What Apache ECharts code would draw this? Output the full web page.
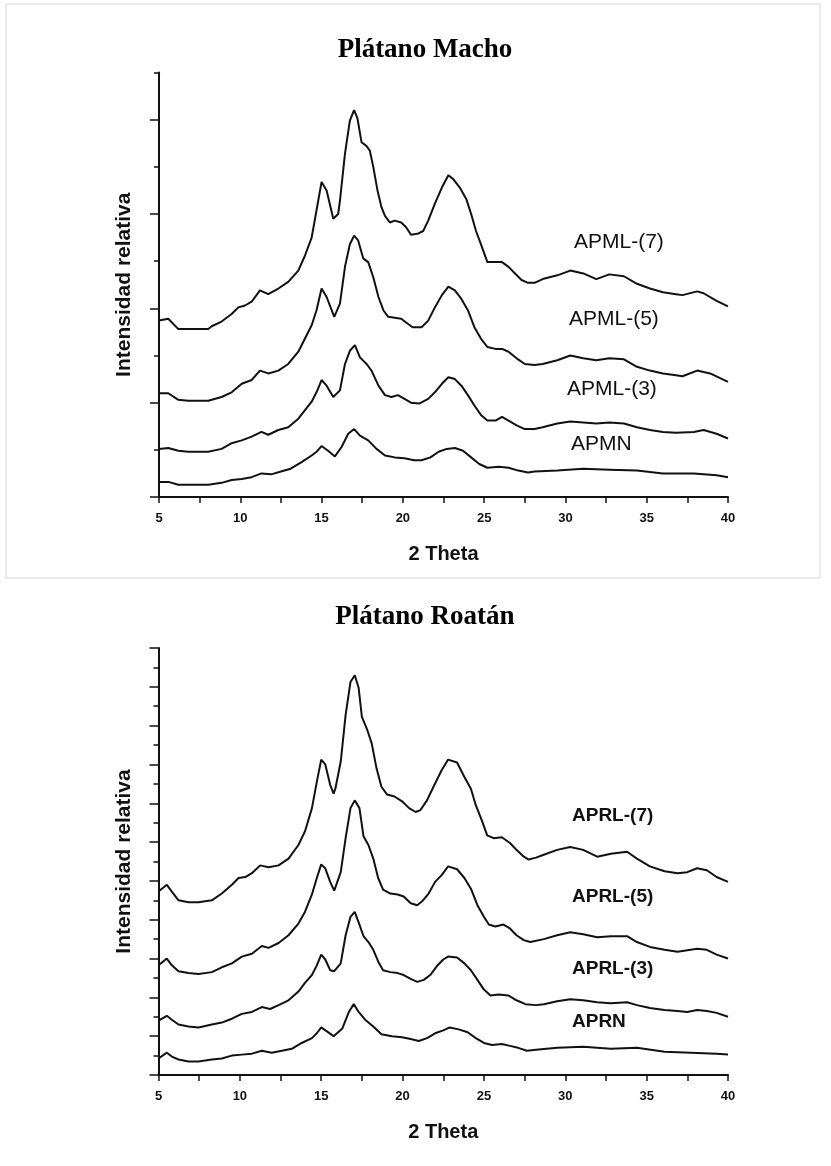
<!DOCTYPE html>
<html>
<head>
<meta charset="utf-8">
<script src="https://cdn.jsdelivr.net/npm/echarts@6/dist/echarts.min.js"></script>
<style>
  html, body { margin: 0; padding: 0; background: #fff; }
  #chart { width: 831px; height: 1166px; }
</style>
</head>
<body>
<div id="chart"></div>
<script>
// difractogramas, pares [2 theta, intensidad relativa]
// Platano Macho
var apml7 = [[5.0,187],[5.57,189],[6.19,178],[6.6,178],[8.03,178],[8.24,181],[8.85,186],[9.47,194],[9.88,201],[10.29,203],[10.7,207],[11.21,219],[11.72,215],[12.34,221],[12.95,228],[13.57,240],[13.98,256],[14.39,275],[14.69,304],[15.0,334],[15.31,325],[15.72,295],[16.02,300],[16.13,314],[16.44,364],[16.74,399],[17.0,410],[17.2,402],[17.46,376],[17.77,372],[17.97,367],[18.18,350],[18.44,325],[18.69,307],[18.9,298],[19.2,291],[19.5,293],[19.9,291],[20.2,286],[20.5,278],[20.9,279],[21.25,282],[21.56,293],[21.97,311],[22.4,328],[22.8,341],[23.1,337],[23.5,328],[23.9,316],[24.2,300],[24.5,282],[24.8,268],[25.2,249],[25.7,249],[26.1,249],[26.5,244],[26.9,237],[27.3,230],[27.7,227],[28.1,227],[28.6,231],[29.5,235],[30.3,240],[31.1,237],[31.9,231],[32.7,236],[33.6,234],[34.4,226],[35.2,221],[36.0,217],[36.8,215],[37.2,214],[38.1,218],[38.5,216],[39.3,208],[40.0,202]];
var apml5 = [[5.0,110],[5.57,110],[6.19,103],[6.8,102],[8.03,102],[8.85,106],[9.47,111],[10.09,120],[10.7,124],[11.21,134],[11.72,131],[12.34,134],[12.95,141],[13.57,154],[13.98,168],[14.39,182],[14.69,198],[15.0,221],[15.31,212],[15.78,191],[16.13,205],[16.44,244],[16.74,268],[17.0,277],[17.25,272],[17.56,253],[17.87,249],[18.18,233],[18.5,212],[18.8,198],[19.1,191],[19.5,190],[19.9,189],[20.2,185],[20.6,180],[21.15,180],[21.56,187],[21.97,201],[22.4,214],[22.8,223],[23.2,219],[23.6,210],[24.0,198],[24.4,180],[24.8,168],[25.2,159],[25.7,157],[26.1,157],[26.5,154],[27.0,147],[27.5,141],[28.1,140],[28.6,141],[29.5,145],[30.3,150],[31.1,147],[31.9,145],[32.7,147],[33.6,146],[34.4,138],[35.2,134],[36.0,131],[36.8,129],[37.2,128],[38.1,134],[38.9,131],[40.0,122]];
var apml3 = [[5.0,51],[5.57,52],[6.19,49],[6.8,48],[8.03,48],[8.85,51],[9.47,57],[10.09,60],[10.7,64],[11.3,69],[11.72,66],[12.34,71],[12.95,74],[13.57,83],[13.98,92],[14.39,101],[14.69,111],[15.0,124],[15.31,118],[15.72,106],[16.13,113],[16.44,141],[16.74,155],[17.05,161],[17.36,148],[17.77,141],[18.07,134],[18.5,118],[18.9,108],[19.3,106],[19.7,108],[20.1,104],[20.5,100],[21.0,99],[21.56,104],[21.97,111],[22.4,120],[22.8,127],[23.2,125],[23.6,118],[24.0,108],[24.4,97],[24.8,87],[25.2,81],[25.7,81],[26.1,85],[26.5,81],[27.0,76],[27.5,72],[28.1,72],[28.6,74],[29.5,78],[30.3,80],[31.1,79],[31.9,78],[32.7,79],[33.6,78],[34.4,74],[35.2,71],[36.0,69],[36.8,68],[37.9,69],[38.5,71],[39.3,67],[40.0,62]];
var apmn = [[5.0,16],[5.57,16],[6.19,13],[6.8,13],[8.03,13],[8.85,15],[9.47,18],[10.09,19],[10.7,21],[11.3,25],[11.9,24],[12.5,27],[13.1,30],[13.77,37],[14.39,44],[14.69,48],[15.0,54],[15.4,49],[15.82,43],[16.23,53],[16.64,67],[17.0,72],[17.36,65],[17.87,60],[18.38,51],[18.9,44],[19.5,42],[20.1,41],[20.7,39],[21.15,39],[21.7,42],[22.2,48],[22.7,51],[23.2,52],[23.7,49],[24.2,42],[24.7,35],[25.2,31],[25.9,32],[26.5,31],[27.1,28],[27.7,26],[28.1,27],[29.5,28],[31.1,30],[32.7,29],[34.4,28],[36.0,25],[37.9,25],[39.3,23],[40.0,21]];

// Platano Roatan
var aprl7 = [[5.0,189],[5.51,196],[5.82,189],[6.23,180],[6.84,178],[7.46,178],[8.28,180],[8.89,187],[9.51,196],[9.92,203],[10.33,204],[10.74,208],[11.25,216],[11.76,214],[12.38,216],[12.99,223],[13.6,237],[14.0,251],[14.43,275],[14.73,302],[15.0,325],[15.25,320],[15.55,299],[15.76,290],[15.87,295],[16.2,323],[16.5,371],[16.8,405],[17.06,412],[17.3,399],[17.5,369],[17.8,357],[18.1,342],[18.4,316],[18.7,297],[19.05,289],[19.5,287],[19.97,282],[20.4,275],[20.8,271],[21.1,273],[21.5,283],[21.9,297],[22.4,314],[22.8,325],[23.35,322],[23.8,307],[24.2,295],[24.5,278],[24.9,261],[25.2,247],[25.6,244],[26.1,245],[26.6,239],[27.0,232],[27.45,225],[27.75,222],[28.2,224],[28.68,227],[29.5,232],[30.3,235],[31.1,232],[31.96,225],[32.8,228],[33.8,230],[34.4,223],[35.2,215],[36.1,210],[36.9,208],[37.5,209],[38.1,213],[38.7,211],[39.3,204],[40.0,199]];
var aprl5 = [[5.0,113],[5.51,120],[5.82,113],[6.23,107],[6.84,105],[7.46,104],[8.28,106],[8.89,111],[9.51,115],[10.12,122],[10.74,125],[11.35,133],[11.76,131],[12.38,136],[12.99,144],[13.6,156],[14.0,168],[14.43,186],[14.73,203],[15.0,217],[15.25,213],[15.55,199],[15.8,190],[16.2,209],[16.5,244],[16.8,275],[17.06,283],[17.35,275],[17.6,246],[17.9,237],[18.2,223],[18.5,203],[18.8,191],[19.25,187],[19.7,186],[20.07,184],[20.5,177],[20.9,175],[21.2,179],[21.6,187],[22.0,199],[22.4,206],[22.8,215],[23.35,212],[23.8,203],[24.2,192],[24.6,175],[25.0,163],[25.3,155],[25.7,153],[26.2,155],[26.6,151],[27.0,144],[27.45,139],[27.85,137],[28.68,140],[29.5,144],[30.3,147],[31.1,145],[31.96,142],[32.8,143],[33.8,143],[34.4,137],[35.2,132],[36.1,129],[36.9,127],[37.7,129],[38.1,130],[38.7,129],[39.3,124],[40.0,120]];
var aprl3 = [[5.0,56],[5.51,61],[5.82,57],[6.23,52],[6.84,50],[7.46,49],[8.28,52],[8.89,54],[9.51,58],[10.12,63],[10.74,65],[11.35,70],[11.86,68],[12.38,72],[12.99,77],[13.6,86],[14.0,95],[14.43,103],[14.73,113],[15.0,124],[15.25,119],[15.55,108],[15.8,107],[16.2,115],[16.5,144],[16.8,163],[17.06,168],[17.35,155],[17.6,143],[17.9,137],[18.2,129],[18.5,117],[18.8,108],[19.25,106],[19.7,105],[20.07,103],[20.5,99],[20.9,96],[21.3,98],[21.7,103],[22.1,112],[22.5,119],[22.8,122],[23.35,121],[23.8,115],[24.2,108],[24.6,98],[25.0,88],[25.4,82],[25.9,83],[26.5,82],[27.0,77],[27.55,73],[28.2,72],[28.68,73],[29.5,76],[30.3,78],[31.1,77],[31.96,75],[32.8,74],[33.8,75],[34.4,72],[35.2,69],[36.1,67],[36.9,66],[37.5,65],[38.1,67],[38.7,66],[39.3,64],[40.0,60]];
var aprn = [[5.0,17],[5.51,23],[5.82,19],[6.23,16],[6.84,14],[7.46,14],[8.28,16],[8.89,17],[9.51,20],[10.12,21],[10.74,22],[11.35,25],[11.96,23],[12.58,25],[13.19,27],[13.8,33],[14.43,38],[14.73,43],[15.0,49],[15.35,45],[15.76,40],[16.3,48],[16.7,65],[17.0,73],[17.3,65],[17.7,57],[18.2,50],[18.7,42],[19.35,40],[19.97,39],[20.5,37],[21.0,35],[21.5,38],[22.0,43],[22.5,46],[22.9,49],[23.45,47],[24.0,44],[24.5,38],[25.0,33],[25.5,31],[26.1,32],[26.6,30],[27.1,28],[27.65,25],[28.2,26],[29.5,28],[31.1,29],[32.8,27],[34.4,28],[36.1,24],[37.7,23],[39.3,22],[40.0,21]];

var machoNames = ['APML-(7)', 'APML-(5)', 'APML-(3)', 'APMN'];
var roatanNames = ['APRL-(7)', 'APRL-(5)', 'APRL-(3)', 'APRN'];
var machoMajor = [0, 100, 200, 300, 400];
var roatanMajor = [0, 40, 80, 120, 160, 200, 240, 280, 320, 360, 400, 440];

var black = '#111';
var sans = '"Liberation Sans", Arial, sans-serif';

function xAxisFor(grid) {
    return {
        gridIndex: grid, type: 'value', min: 5, max: 40, interval: 5,
        name: '2 Theta', nameLocation: 'middle', nameGap: 47,
        nameTextStyle: { color: black, fontFamily: sans, fontWeight: 'bold', fontSize: 20 },
        axisLine: { lineStyle: { color: black, width: 2 } },
        axisTick: { inside: false, length: 6, lineStyle: { color: black, width: 1.5 } },
        minorTick: { show: true, splitNumber: 2, length: 6, lineStyle: { color: black, width: 1.5 } },
        axisLabel: { color: black, fontFamily: sans, fontWeight: 'bold', fontSize: 13, margin: 15 },
        splitLine: { show: false }, minorSplitLine: { show: false }
    };
}

function yAxesFor(grid, max, step, majors) {
    return [{
        gridIndex: grid, type: 'value', position: 'left', min: 0, max: max, interval: step,
        name: 'Intensidad relativa', nameLocation: 'middle', nameGap: 24, nameRotate: 90,
        nameTextStyle: { color: black, fontFamily: sans, fontWeight: 'bold', fontSize: 21 },
        axisLine: { show: true, lineStyle: { color: black, width: 2 } },
        axisTick: { show: true, length: 5, lineStyle: { color: black, width: 1.5 } },
        axisLabel: { show: false },
        splitLine: { show: false }
    }, {
        gridIndex: grid, type: 'value', position: 'left', min: 0, max: max, interval: step * 2,
        axisLine: { show: false },
        axisTick: { show: true, length: 9, customValues: majors, lineStyle: { color: black, width: 1.5 } },
        axisLabel: { show: false },
        splitLine: { show: false }
    }];
}

function line(data, xi, yi) {
    return {
        type: 'line', data: data, xAxisIndex: xi, yAxisIndex: yi,
        showSymbol: false, symbol: 'none', smooth: false, animation: false,
        lineStyle: { color: black, width: 2 }
    };
}

function label(text, x, y, bold, size) {
    return {
        type: 'text', left: x, top: y - size / 2 - 1, silent: true,
        style: { text: text, fill: black, font: (bold ? 'bold ' : '') + size + 'px ' + sans }
    };
}

function title(text, y) {
    return {
        type: 'text', x: 425, y: y, silent: true,
        style: { text: text, fill: '#000', align: 'center', textAlign: 'center',
                 verticalAlign: 'middle', textVerticalAlign: 'middle',
                 font: 'bold 27px "Liberation Serif", "Times New Roman", serif' }
    };
}

var chart = echarts.init(document.getElementById('chart'), null, { renderer: 'canvas' });

var machoY = [243, 320, 390, 445];
var roatanY = [817, 898, 970, 1023];
var graphics = [
    { type: 'rect', shape: { x: 6, y: 4, width: 814, height: 574 }, silent: true,
      style: { fill: 'none', stroke: '#d6d6d6', lineWidth: 1 } },
    title('Plátano Macho', 50),
    title('Plátano Roatán', 617)
];
var machoX = [574, 569, 567, 571];
machoNames.forEach(function (n, i) { graphics.push(label(n, machoX[i], machoY[i], false, 21)); });
roatanNames.forEach(function (n, i) { graphics.push(label(n, 572, roatanY[i], true, 19)); });

chart.setOption({
    backgroundColor: '#fff',
    animation: false,
    grid: [
        { left: 159, top: 72.5, width: 569, height: 424.5 },
        { left: 158.5, top: 648, width: 569.5, height: 427 }
    ],
    xAxis: [xAxisFor(0), xAxisFor(1)],
    yAxis: yAxesFor(0, 450, 50, machoMajor).concat(yAxesFor(1, 440, 20, roatanMajor)),
    series: [
        line(apml7, 0, 0), line(apml5, 0, 0), line(apml3, 0, 0), line(apmn, 0, 0),
        line(aprl7, 1, 2), line(aprl5, 1, 2), line(aprl3, 1, 2), line(aprn, 1, 2)
    ],
    graphic: graphics
});
</script>
</body>
</html>
